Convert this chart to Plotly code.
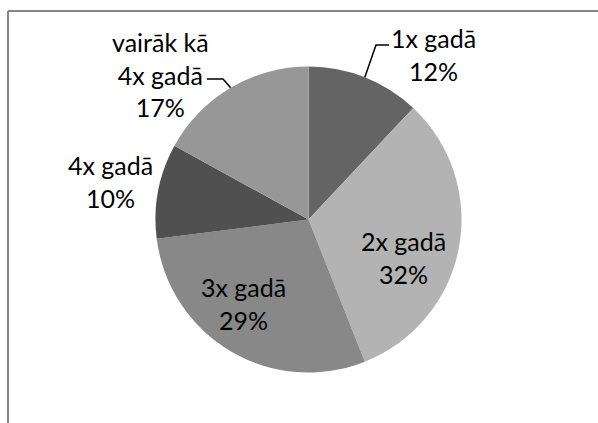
import plotly.graph_objects as go
import math

# ---- data ----
labels = ["1x gadā", "2x gadā", "3x gadā", "4x gadā", "vairāk kā 4x gadā"]
values = [12, 32, 29, 10, 17]
colors = ["#646464", "#b3b3b3", "#888888", "#505050", "#979797"]

# ---- layout constants (pixels) ----
W, H = 598, 423
cx, cy, R = 308.5, 219.5, 153

def px(x):
    return x / W

def py(y):
    return 1 - y / H

fig = go.Figure(go.Pie(
    labels=labels,
    values=values,
    sort=False,
    direction="clockwise",
    rotation=0,
    marker=dict(colors=colors, line=dict(width=0)),
    textinfo="none",
    hoverinfo="label+percent",
    showlegend=False,
    domain=dict(x=[px(cx - R), px(cx + R)], y=[py(cy + R), py(cy - R)]),
))

# label placement (pixel centres of text blocks) and leader-line elbows
label_pos = {
    "1x gadā": (433, 55),
    "2x gadā": (403, 257),
    "3x gadā": (243, 303),
    "4x gadā": (111, 181),
    "vairāk kā 4x gadā": (160, 74),
}
leaders = {
    "1x gadā": [(376, 45), (389, 45)],
    "vairāk kā 4x gadā": [(223, 79), (207, 79)],
}

total = sum(values)
annotations = []
shapes = []
cum = 0
for lab, val in zip(labels, values):
    mid = (cum + val / 2) / total * 2 * math.pi
    cum += val
    pct = round(val / total * 100)
    text = lab.replace(" kā ", " kā<br>") + "<br>" + f"{pct}%"
    x, y = label_pos[lab]
    annotations.append(dict(
        x=px(x), y=py(y), xref="paper", yref="paper",
        text=text, showarrow=False, align="center",
        xanchor="center", yanchor="middle",
        font=dict(family="Lato", size=25, color="#000000"),
    ))
    if lab in leaders:
        ex = cx + R * math.sin(mid)
        ey = cy - R * math.cos(mid)
        pts = [(ex, ey)] + leaders[lab]
        path = "M " + " L ".join(f"{px(a)},{py(b)}" for a, b in pts)
        shapes.append(dict(type="path", path=path, xref="paper", yref="paper",
                           line=dict(color="#000000", width=1.5)))

# chart-area border (top and left edges visible)
shapes.append(dict(type="line", xref="paper", yref="paper",
                   x0=px(8), x1=1, y0=py(11), y1=py(11),
                   line=dict(color="#868686", width=2)))
shapes.append(dict(type="line", xref="paper", yref="paper",
                   x0=px(8), x1=px(8), y0=py(11), y1=0,
                   line=dict(color="#868686", width=2)))

fig.update_layout(
    width=W, height=H,
    margin=dict(l=0, r=0, t=0, b=0),
    paper_bgcolor="white",
    plot_bgcolor="white",
    annotations=annotations,
    shapes=shapes,
)

fig.write_html("out.html", config={"displayModeBar": False},
               post_script="document.body.style.margin='0';")
